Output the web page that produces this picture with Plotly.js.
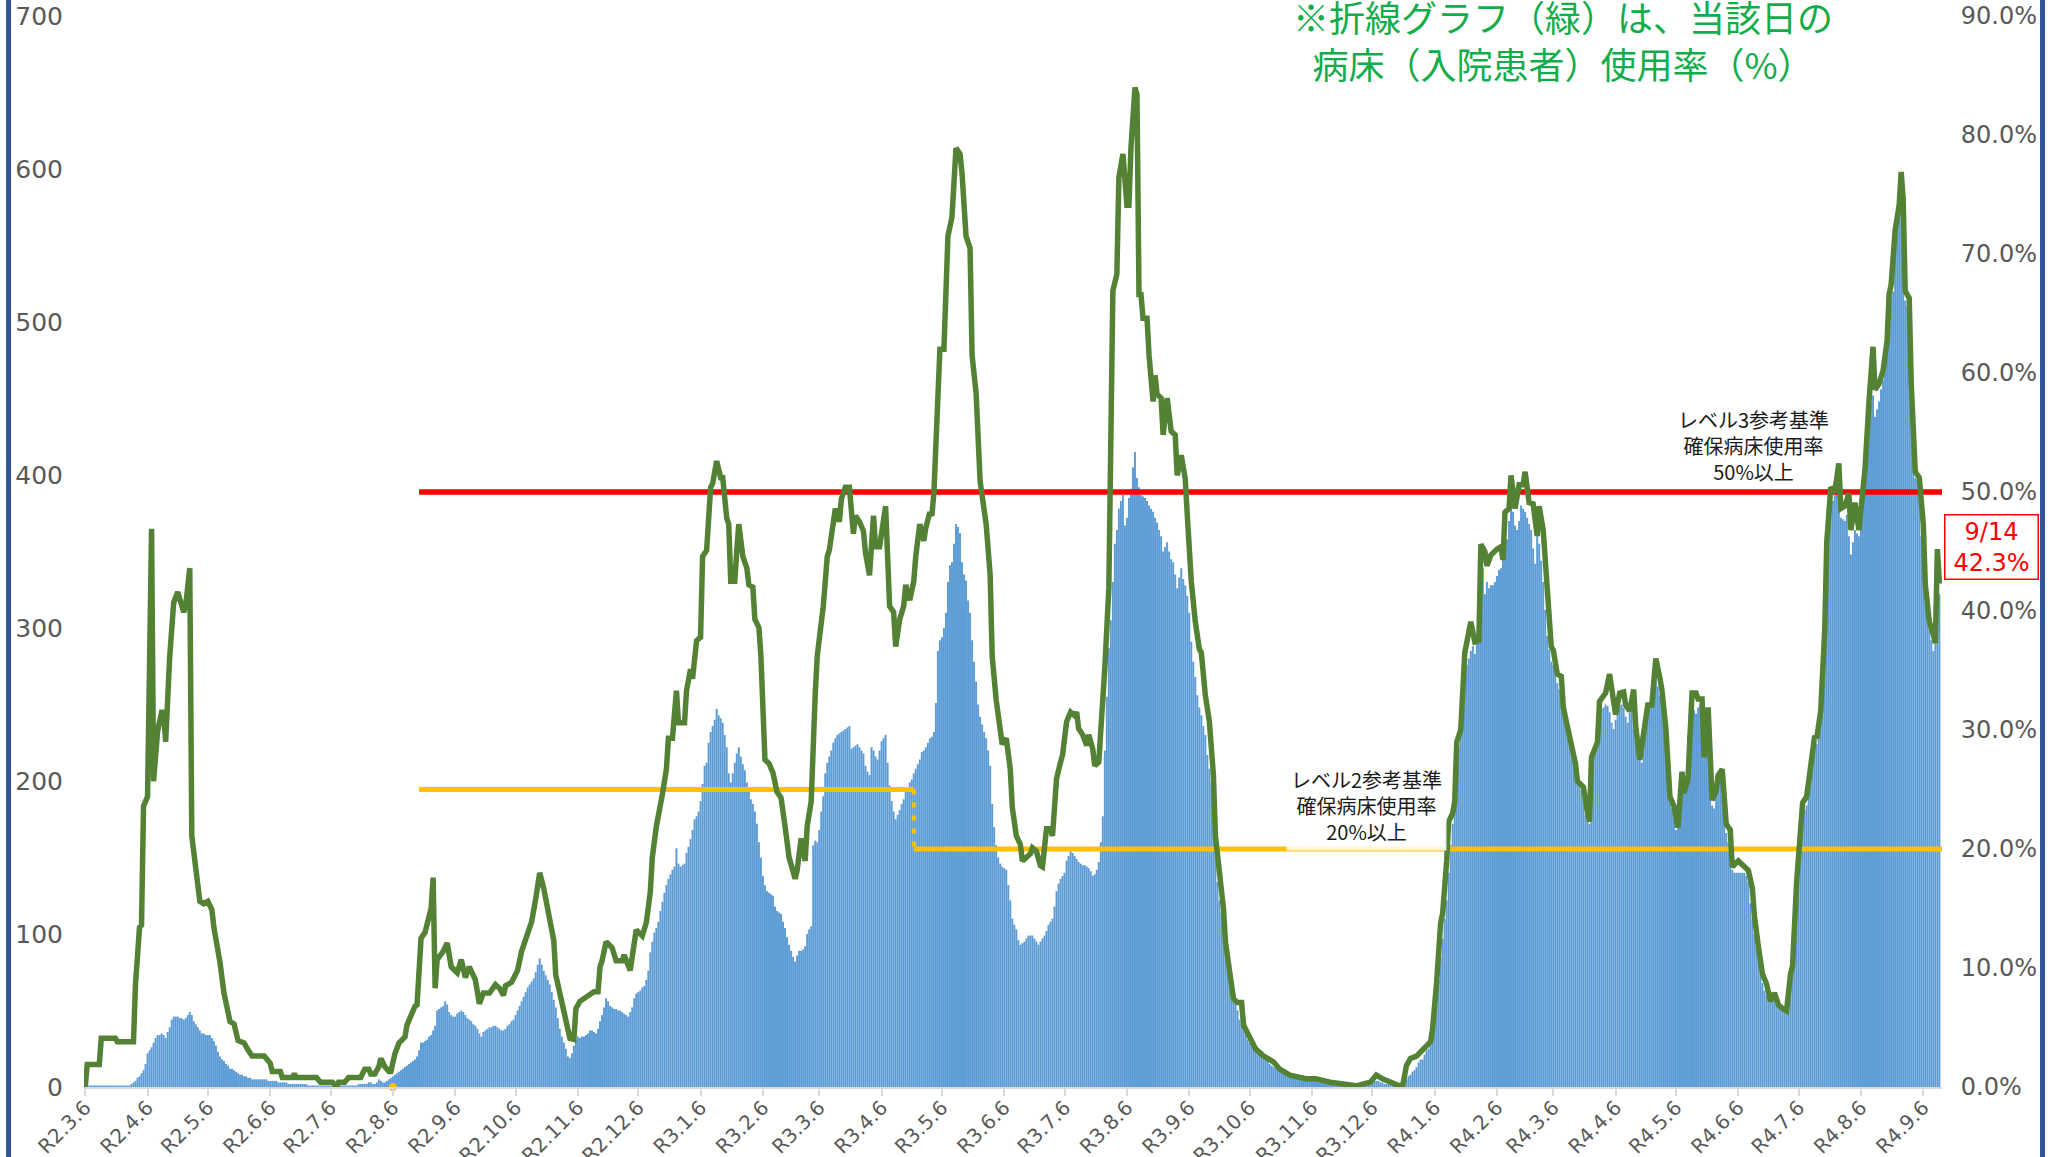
<!DOCTYPE html>
<html>
<head>
<meta charset="utf-8">
<script src="https://cdn.plot.ly/plotly-3.0.1.min.js"></script>
<style>
  html, body { margin: 0; padding: 0; background: #ffffff; }
  #chart { width: 2059px; height: 1157px; }
</style>
</head>
<body>
<div id="chart"></div>
<script>
// ---------------- DATA ----------------
// first day of the series (R2.3.6 = 2020-03-06); bars are daily from this date
const startDate = [2020, 2, 6];

// daily count (left axis), one value per day from 2020-03-06 to 2022-09-14
const dailyCounts = [
  1,1,1,1,1,1,1,1,1,1,
  1,1,1,1,1,1,1,1,1,1,
  1,1,1,2,3,4,6,7,9,11,
  15,22,24,26,29,32,34,34,35,34,
  32,36,39,44,46,46,46,45,45,44,
  45,47,49,47,43,41,39,37,35,35,
  34,34,34,32,30,27,23,20,18,17,
  15,14,12,12,11,10,9,8,8,7,
  7,6,6,5,5,5,5,5,5,5,
  5,4,4,4,4,4,3,3,3,3,
  3,2,2,2,2,2,2,2,2,2,
  2,1,1,1,1,1,1,1,1,1,
  1,1,1,1,1,1,1,1,1,1,
  1,1,1,1,1,1,2,2,2,2,
  2,3,3,2,2,3,5,4,3,3,
  4,5,6,7,8,9,10,11,12,13,
  14,15,16,17,18,20,24,29,29,30,
  31,33,34,37,40,50,51,52,53,56,
  54,49,47,46,46,48,49,50,49,47,
  45,44,43,41,40,38,35,33,36,37,
  38,39,39,40,40,39,38,37,37,38,
  40,41,43,44,47,50,53,56,59,62,
  65,67,69,71,75,80,84,80,76,73,
  70,67,62,57,52,45,38,33,29,25,
  20,19,22,27,31,33,32,33,33,34,
  35,37,37,36,35,38,43,47,52,58,
  56,53,52,51,51,50,50,49,48,47,
  46,49,52,58,61,62,63,65,66,70,
  76,88,95,101,104,108,115,121,127,132,
  136,139,142,144,156,146,144,145,146,153,
  157,162,168,175,177,180,187,198,210,212,
  225,232,236,240,247,243,241,238,230,222,
  205,199,205,212,218,222,216,211,207,199,
  193,188,185,180,172,160,150,138,132,128,
  127,126,125,118,115,114,113,108,104,98,
  93,89,85,82,86,89,89,90,92,100,
  103,105,158,161,160,168,180,190,205,212,
  216,220,225,228,230,231,232,233,234,235,
  236,221,222,223,224,222,220,218,210,206,
  204,222,220,216,214,220,226,228,230,212,
  197,187,180,175,178,181,185,188,193,196,
  199,201,205,208,211,214,219,220,222,225,
  228,229,232,251,285,292,294,300,310,330,
  341,343,355,368,366,362,343,335,331,318,
  310,292,278,265,250,242,237,232,228,220,
  210,185,170,158,150,146,144,143,142,132,
  122,110,106,103,96,93,94,95,97,99,
  99,99,97,95,93,95,97,99,102,106,
  108,110,118,128,133,136,138,140,148,151,
  154,153,151,149,147,146,145,145,144,143,
  141,138,139,142,147,160,177,220,255,287,
  305,330,355,364,378,383,387,367,372,385,
  391,405,415,398,392,387,386,385,383,380,
  378,376,372,369,364,360,350,353,356,350,
  345,343,335,326,333,339,332,328,321,310,
  291,278,268,256,248,243,236,230,217,208,
  199,180,160,134,122,114,101,92,82,70,
  62,58,55,50,44,41,37,34,31,29,
  27,26,25,24,23,21,19,18,17,15,
  14,13,13,12,12,11,10,9,9,8,
  8,7,7,6,5,5,5,5,4,4,
  4,4,4,4,4,4,3,3,3,3,
  3,3,3,3,3,3,2,2,2,2,
  2,2,2,2,2,2,2,2,2,3,
  3,4,4,4,3,3,2,2,2,2,
  2,2,2,2,3,3,4,5,7,8,
  10,11,13,16,18,18,21,24,25,29,
  36,45,60,70,85,97,110,122,140,158,
  172,190,208,222,232,255,268,276,280,285,
  288,283,290,305,345,339,322,330,326,328,
  328,330,334,338,339,345,350,358,370,380,
  376,367,364,370,380,378,376,372,368,364,
  352,342,364,355,344,330,312,295,286,278,
  276,274,264,260,256,246,236,230,224,218,
  212,203,200,198,194,188,178,174,172,200,
  216,220,232,246,247,248,250,249,245,238,
  234,240,246,249,250,248,242,238,245,250,
  234,226,220,215,212,236,244,250,251,252,
  268,276,262,256,252,236,220,195,186,182,
  176,168,185,200,198,198,199,230,250,248,
  246,244,248,250,228,216,240,244,190,184,
  182,194,198,202,190,176,166,160,146,142,
  140,140,140,140,140,140,138,134,120,110,
  100,92,84,74,68,63,60,58,56,57,
  58,56,54,52,51,50,50,58,64,80,
  98,116,140,160,176,181,184,198,210,220,
  222,224,232,240,285,300,340,365,380,383,
  387,392,382,372,371,370,374,360,348,356,
  364,362,360,378,390,396,420,432,448,452,
  438,443,448,456,462,478,490,512,516,520,
  548,565,572,576,560,514,510,480,452,420,
  398,397,395,360,340,316,308,300,292,285,
  290,328,322
];

// bed occupancy rate (%), right axis: [day offset from start, percent]
const occupancySeries = [
  [0,0],[1,1.9],[7,1.9],[8,4.1],[15,4.1],[16,3.8],[24,3.8],[25,8.6],[27,13.4],[28,13.6],[29,23.6],[31,24.4],[33,46.9],[34,25.7],[36,29.9],[38,31.5],[39,31.5],[40,29],[42,36.1],[44,40.7],[46,41.6],[48,40.5],[49,39.9],[50,40.5],[52,43.6],[53,21.1],[55,18.5],[57,15.6],[59,15.4],[61,15.6],[63,14.9],[64,13.4],[67,10.5],[69,7.9],[72,5.5],[74,5.3],[76,3.9],[79,3.7],[81,3.1],[83,2.6],[89,2.6],[92,2.0],[93,1.3],[97,1.3],[98,0.8],[103,0.8],[104,1.1],[105,0.8],[115,0.8],[117,0.4],[123,0.4],[125,0],[126,0.4],[129,0.4],[131,0.8],[137,0.8],[139,1.5],[141,1.5],[142,1.1],[144,1.1],[146,1.7],[147,2.4],[149,1.7],[151,1.3],[152,1.3],[154,2.8],[156,3.7],[159,4.2],[160,5.2],[162,6.1],[164,6.8],[165,6.9],[166,9.0],[167,12.5],[169,13.0],[170,13.6],[172,15.0],[173,17.6],[174,8.3],[175,10.7],[178,11.4],[180,12.1],[182,10.1],[185,9.6],[187,10.7],[189,9.2],[191,10.1],[194,9.0],[196,7.0],[198,7.9],[201,7.9],[204,8.6],[206,8.3],[208,7.7],[209,8.5],[212,8.8],[214,9.6],[215,9.8],[217,11.4],[219,12.3],[222,13.9],[224,15.8],[226,18.0],[228,16.7],[229,15.8],[231,14.3],[233,12.3],[234,9.4],[236,7.9],[238,6.3],[240,5.0],[241,4.1],[243,4.0],[244,6.6],[246,7.2],[248,7.4],[251,7.8],[253,8.0],[255,8.0],[256,10.1],[257,10.6],[259,12.2],[262,11.7],[264,10.6],[267,10.6],[268,11.1],[271,9.8],[272,11.1],[274,13.2],[277,12.7],[279,13.8],[281,16.4],[282,19.3],[284,21.9],[286,23.5],[287,24.6],[289,26.7],[290,29.3],[292,29.3],[294,33.3],[295,30.6],[298,30.6],[299,33.3],[301,35.1],[302,34.3],[304,37.5],[306,37.8],[307,44.6],[309,45.1],[311,50.4],[312,50.7],[314,52.6],[316,51.2],[317,51.2],[319,47.8],[320,47.3],[321,42.5],[323,42.5],[324,45.1],[325,47.3],[327,44.6],[329,43.6],[330,42.2],[332,42.0],[333,39.3],[335,38.6],[336,36.2],[338,27.5],[340,27.2],[342,26.4],[344,24.8],[346,24.3],[348,21.9],[350,19.3],[353,17.5],[354,18.2],[356,20.9],[358,19.0],[359,21.9],[361,24.0],[363,33.0],[364,36.2],[367,40.4],[369,44.6],[370,45.1],[373,48.6],[375,47.5],[376,49.4],[378,50.4],[380,50.4],[382,46.5],[383,48.0],[385,47.5],[387,46.7],[388,44.9],[390,43.0],[392,48.0],[393,45.4],[395,45.4],[397,48.3],[398,48.8],[400,40.4],[402,39.9],[403,37.0],[405,39.3],[407,40.4],[408,42.2],[410,40.9],[412,42.5],[413,44.6],[415,47.3],[417,45.9],[418,47.0],[420,48.3],[421,48.0],[422,49.9],[423,54.1],[425,62.0],[427,62.0],[429,71.5],[431,73.1],[433,78.9],[435,78.4],[436,76.8],[438,71.5],[440,70.5],[441,61.5],[443,58.3],[445,50.9],[446,49.4],[448,47.3],[450,43.0],[451,36.2],[453,32.5],[455,29.3],[456,28.8],[458,29.3],[460,26.7],[461,23.5],[463,21.1],[465,20.4],[466,19.0],[468,19.3],[470,19.6],[471,20.1],[473,19.8],[475,18.6],[476,18.5],[478,21.7],[480,21.7],[481,21.1],[483,25.9],[485,27.3],[486,27.9],[488,30.7],[490,31.5],[492,31.2],[493,31.5],[494,30.1],[496,29.6],[498,28.7],[499,29.6],[501,28.4],[502,27.0],[504,27.3],[505,30.7],[507,35.2],[509,41.9],[510,53.1],[511,66.9],[513,68.3],[514,76.4],[516,78.4],[518,74.1],[519,74.1],[520,78.9],[522,84.0],[523,83.4],[524,66.6],[525,66.6],[526,64.6],[528,64.6],[529,61.5],[531,57.6],[532,59.8],[533,58.2],[535,57.9],[536,54.8],[538,57.9],[540,55.1],[542,54.8],[543,51.4],[545,53.1],[547,51.1],[548,48.1],[550,42.5],[552,39.1],[554,36.8],[555,36.5],[557,32.9],[559,30.7],[561,26.2],[562,21.1],[564,18.1],[566,15.0],[567,12.2],[569,9.6],[571,7.4],[573,7.1],[575,7.1],[576,5.2],[579,4.3],[582,3.2],[586,2.6],[591,2.1],[594,1.5],[599,1.0],[607,0.7],[612,0.7],[619,0.4],[632,0.1],[639,0.4],[642,1.0],[645,0.7],[649,0.4],[655,0],[657,1.8],[659,2.4],[662,2.6],[664,2.9],[667,3.5],[669,3.8],[670,4.9],[671,6.6],[672,8.8],[674,13.8],[675,14.6],[677,19.0],[678,22.3],[680,23.0],[681,24.0],[682,29.0],[684,30.0],[686,36.5],[688,38.0],[689,39.1],[691,37.4],[693,37.5],[694,45.6],[696,45.0],[697,43.8],[699,44.7],[702,45.2],[704,45.4],[705,44.3],[706,48.3],[708,48.6],[709,51.4],[711,48.6],[713,50.6],[715,50.6],[716,51.7],[718,49.1],[720,49.0],[722,46.3],[723,48.8],[725,46.8],[727,41.1],[729,37.0],[730,36.7],[732,34.7],[734,34.5],[735,31.9],[737,30.3],[739,28.8],[741,27.2],[742,25.7],[745,25.2],[747,23.1],[748,22.3],[749,27.7],[751,28.8],[752,29.0],[753,32.4],[756,33.1],[758,34.7],[759,33.4],[761,31.3],[763,33.1],[765,33.2],[766,32.1],[768,31.6],[770,33.4],[771,30.3],[773,27.5],[775,29.5],[777,32.1],[779,32.1],[780,33.9],[781,36.0],[783,34.4],[784,33.4],[786,30.1],[788,24.4],[790,23.6],[792,21.8],[794,26.5],[795,24.7],[797,25.9],[799,33.1],[801,33.1],[802,32.6],[804,32.6],[805,27.7],[807,31.9],[809,24.1],[811,24.9],[812,26.2],[814,26.7],[816,22.1],[818,21.6],[819,18.5],[822,19.0],[824,18.7],[827,18.2],[829,16.7],[830,14.4],[832,11.8],[834,9.5],[836,8.7],[838,7.2],[840,7.9],[842,6.9],[844,6.6],[846,6.4],[848,9.5],[849,10.2],[851,17.2],[853,21.0],[854,23.9],[856,24.4],[858,27.2],[860,29.5],[861,29.3],[863,31.6],[865,38.5],[866,45.8],[868,50.4],[870,50.0],[872,52.4],[873,48.6],[875,48.8],[877,49.9],[878,46.8],[880,49.1],[882,46.8],[884,50.4],[885,51.9],[887,57.6],[889,62.2],[890,58.6],[892,59.1],[894,60.2],[896,62.7],[897,66.6],[898,67.4],[900,72.0],[902,74.1],[903,76.9],[904,74.6],[905,66.9],[907,66.3],[908,59.1],[910,51.7],[912,51.2],[914,47.3],[915,42.2],[917,39.1],[919,38.0],[920,37.3],[921,45.2],[922,42.3]
];

// x-axis tick labels (Reiwa dates) and the days they mark
const tickLabels = ['R2.3.6','R2.4.6','R2.5.6','R2.6.6','R2.7.6','R2.8.6','R2.9.6','R2.10.6','R2.11.6','R2.12.6',
  'R3.1.6','R3.2.6','R3.3.6','R3.4.6','R3.5.6','R3.6.6','R3.7.6','R3.8.6','R3.9.6','R3.10.6','R3.11.6','R3.12.6',
  'R4.1.6','R4.2.6','R4.3.6','R4.4.6','R4.5.6','R4.6.6','R4.7.6','R4.8.6','R4.9.6'];
const tickDates = ['2020-03-06','2020-04-06','2020-05-06','2020-06-06','2020-07-06','2020-08-06','2020-09-06','2020-10-06','2020-11-06','2020-12-06',
  '2021-01-06','2021-02-06','2021-03-06','2021-04-06','2021-05-06','2021-06-06','2021-07-06','2021-08-06','2021-09-06','2021-10-06','2021-11-06','2021-12-06',
  '2022-01-06','2022-02-06','2022-03-06','2022-04-06','2022-05-06','2022-06-06','2022-07-06','2022-08-06','2022-09-06'];

// left and right axis ticks
const countTicks = [0, 100, 200, 300, 400, 500, 600, 700];
const pctTicks = [0, 10, 20, 30, 40, 50, 60, 70, 80, 90];
const pctTickText = ['0.0%', '10.0%', '20.0%', '30.0%', '40.0%', '50.0%', '60.0%', '70.0%', '80.0%', '90.0%'];

// reference levels (%) and the days on which they apply
const level3Pct = 50;          // レベル3参考基準
const level2PctEarly = 25;     // earlier level-2 criterion
const level2PctLate = 20;      // レベル2参考基準
const levelStartDay = 166;
const levelSwitchDay = 412;
const levelEndDay = 923.3;
const markerDay = 153;         // small yellow marker on the axis

const lastLabel = '9/14<br>42.3%';

// ---------------- HELPERS ----------------
function dayToDate(d) {
  const ms = Date.UTC(startDate[0], startDate[1], startDate[2]) + d * 86400000;
  const iso = new Date(ms).toISOString();
  return iso.slice(0, 10) + ' ' + iso.slice(11, 19);
}
const barDates = dailyCounts.map((v, i) => dayToDate(i));
const lineX = occupancySeries.map(p => dayToDate(p[0]));
const lineY = occupancySeries.map(p => p[1]);

const tickFontFamily = 'DejaVu Sans, sans-serif';
const jpFont = 'Noto Sans CJK JP, sans-serif';

const data = [
  {
    type: 'bar', x: barDates, y: dailyCounts, yaxis: 'y',
    marker: { color: '#5B9BD5', line: { width: 0 } },
    hoverinfo: 'skip'
  },
  {
    type: 'scatter', mode: 'lines', yaxis: 'y2',
    x: [dayToDate(levelStartDay), dayToDate(levelSwitchDay)],
    y: [level2PctEarly, level2PctEarly],
    line: { color: '#FFC000', width: 5 }, hoverinfo: 'skip'
  },
  {
    type: 'scatter', mode: 'lines', yaxis: 'y2',
    x: [dayToDate(levelSwitchDay), dayToDate(levelSwitchDay)],
    y: [level2PctEarly, level2PctLate],
    line: { color: '#FFC000', width: 4, dash: '5px,8px' }, hoverinfo: 'skip'
  },
  {
    type: 'scatter', mode: 'lines', yaxis: 'y2',
    x: [dayToDate(levelSwitchDay), dayToDate(levelEndDay)],
    y: [level2PctLate, level2PctLate],
    line: { color: '#FFC000', width: 5 }, hoverinfo: 'skip'
  },
  {
    type: 'scatter', mode: 'lines', yaxis: 'y2',
    x: [dayToDate(levelStartDay), dayToDate(levelEndDay)],
    y: [level3Pct, level3Pct],
    line: { color: '#FF0000', width: 5.5 }, hoverinfo: 'skip'
  },
  {
    type: 'scatter', mode: 'markers', yaxis: 'y2',
    x: [dayToDate(markerDay)], y: [0],
    marker: { color: '#FFC000', size: 8 }, cliponaxis: false, hoverinfo: 'skip'
  },
  {
    type: 'scatter', mode: 'lines', yaxis: 'y2',
    x: lineX, y: lineY,
    line: { color: '#548235', width: 5.5 }, hoverinfo: 'skip'
  }
];

const layout = {
  width: 2059, height: 1157,
  margin: { l: 84, r: 117, t: 16, b: 70 },
  paper_bgcolor: '#ffffff', plot_bgcolor: '#ffffff',
  showlegend: false,
  bargap: 0.04,
  xaxis: {
    type: 'date',
    range: [dayToDate(-0.6), dayToDate(923.3)],
    tickmode: 'array', tickvals: tickDates, ticktext: tickLabels,
    tickangle: -45,
    ticks: 'outside', ticklen: 7, tickwidth: 2, tickcolor: '#D9D9D9',
    ticklabelstandoff: -8,
    showline: true, linecolor: '#D9D9D9', linewidth: 2,
    showgrid: false, zeroline: false,
    tickfont: { family: tickFontFamily, size: 20, color: '#595959' }
  },
  yaxis: {
    range: [0, 700], tickmode: 'array', tickvals: countTicks,
    showgrid: false, zeroline: false, showline: false,
    ticks: 'outside', ticklen: 15, tickcolor: 'rgba(0,0,0,0)',
    tickfont: { family: tickFontFamily, size: 25, color: '#595959' }
  },
  yaxis2: {
    overlaying: 'y', side: 'right',
    range: [0, 90], tickmode: 'array', tickvals: pctTicks, ticktext: pctTickText,
    showgrid: false, zeroline: false, showline: false,
    ticks: 'outside', ticklen: 13, tickcolor: 'rgba(0,0,0,0)',
    tickfont: { family: tickFontFamily, size: 24, color: '#595959' }
  },
  shapes: [
    { type: 'line', xref: 'paper', yref: 'paper', x0: -0.0406, x1: -0.0406, y0: -0.2, y1: 1.2,
      line: { color: '#2F5597', width: 5 } },
    { type: 'line', xref: 'paper', yref: 'paper', x0: 1.0541, x1: 1.0541, y0: -0.2, y1: 1.2,
      line: { color: '#2F5597', width: 5 } }
  ],
  annotations: [
    { xref: 'paper', yref: 'paper', x: 0.796, y: 0.9776, xanchor: 'center', yanchor: 'middle',
      text: '※折線グラフ（緑）は、当該日の<br>病床（入院患者）使用率（%）', showarrow: false,
      align: 'center', font: { family: jpFont, size: 36, color: '#12AD4B' } },
    { xref: 'paper', yref: 'paper', x: 0.8988, y: 0.5994, xanchor: 'center', yanchor: 'middle',
      text: 'レベル3参考基準<br>確保病床使用率<br>50%以上', showarrow: false, align: 'center',
      font: { family: jpFont, size: 20, color: '#1a1a1a' } },
    { xref: 'paper', yref: 'paper', x: 0.6905, y: 0.2633, xanchor: 'center', yanchor: 'middle',
      text: 'レベル2参考基準<br>確保病床使用率<br>20%以上', showarrow: false, align: 'center',
      bgcolor: 'rgba(255,255,255,0.85)', borderpad: 4,
      font: { family: jpFont, size: 20, color: '#1a1a1a' } },
    { xref: 'paper', yref: 'paper', x: 1.0269, y: 0.5042, xanchor: 'center', yanchor: 'middle',
      text: lastLabel, showarrow: false, align: 'center',
      bgcolor: '#ffffff', bordercolor: '#FF0000', borderwidth: 1.5, borderpad: 2, width: 88,
      font: { family: tickFontFamily, size: 24, color: '#FF0000' } }
  ]
};

Plotly.newPlot('chart', data, layout, { staticPlot: true, displayModeBar: false });
</script>
</body>
</html>
